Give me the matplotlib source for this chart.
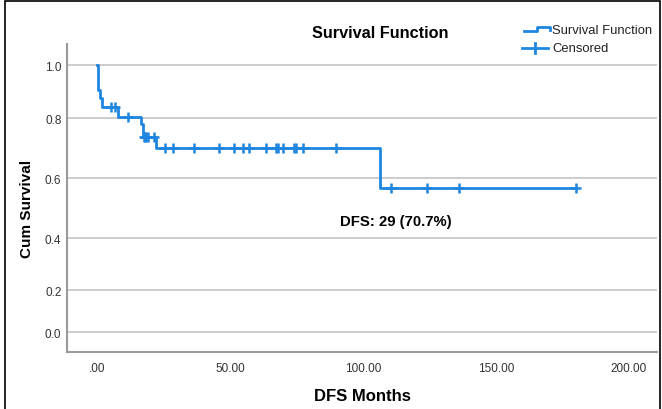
import numpy as np
import matplotlib
matplotlib.use("Agg")
import matplotlib.pyplot as plt
from matplotlib.lines import Line2D
from matplotlib.patches import Rectangle

plt.rcParams["font.family"] = ["Liberation Sans", "DejaVu Sans"]

# Kaplan-Meier steps
step_times = [0, 0.3, 1.2, 1.8, 8.0, 16.4, 17.2, 22.0, 106.5, 180.0]
step_surv = [1.0, 0.905, 0.875, 0.842, 0.804, 0.779, 0.737, 0.70, 0.567, 0.567]

# censored observations
censored_times = [5.3, 6.7, 11.8, 17.6, 18.0, 18.5, 19.1, 21.5, 25.7, 28.5,
                  36.3, 46.0, 51.6, 54.8, 57.3, 63.5, 67.3, 68.2, 70.0, 74.0,
                  74.9, 77.6, 89.9, 110.6, 124.0, 136.0, 180.0]

x_ticks = [0, 50, 100, 150, 200]
x_labels = [".00", "50.00", "100.00", "150.00", "200.00"]
y_ticks = [0.0, 0.2, 0.4, 0.6, 0.8, 1.0]
y_labels = ["0.0", "0.2", "0.4", "0.6", "0.8", "1.0"]

annot_text = "DFS: 29 (70.7%)"

blue = "#1f86e0"

# the source chart has uneven spacing on the survival axis
y_vals = [-0.2, 0.0, 0.2, 0.4, 0.6, 0.8, 1.0, 1.2]
y_pos = [-42, 0, 42, 94, 154, 214, 267, 320]


def fwd(v):
    return np.interp(v, y_vals, y_pos)


def inv(p):
    return np.interp(p, y_pos, y_vals)


fig = plt.figure(figsize=(6.62, 4.10), dpi=100)
ax = fig.add_axes([0.1012, 0.139, 0.8912, 0.751])
ax.set_yscale("function", functions=(fwd, inv))

ax.plot(step_times, step_surv, drawstyle="steps-post", color=blue, lw=2, zorder=3)

t = np.array(step_times)
s = np.array(step_surv)
idx = np.searchsorted(t, censored_times, side="right") - 1
ax.plot(censored_times, s[idx], ls="none", marker="+", ms=7, mew=1.8,
        color=blue, zorder=4)

ax.set_xlim(-11.3, 210.5)
ax.set_ylim(-0.095, 1.079)
ax.set_xticks(x_ticks)
ax.set_xticklabels(x_labels)
ax.set_yticks(y_ticks)
ax.set_yticklabels(y_labels)
ax.tick_params(length=0, labelsize=8.5, colors="#333333")
ax.tick_params(axis="x", pad=7.5)
ax.tick_params(axis="y", pad=4)
ax.yaxis.grid(True, color="#c8c8c8", lw=1.3)
ax.set_axisbelow(True)
for side in ["top", "right"]:
    ax.spines[side].set_visible(False)
for side in ["left", "bottom"]:
    ax.spines[side].set_color("#9a9a9a")
    ax.spines[side].set_linewidth(1.5)

ax.set_xlabel("DFS Months", fontsize=12, fontweight="bold", labelpad=10)
ax.set_ylabel("Cum Survival", fontsize=11, fontweight="bold")
ax.yaxis.set_label_coords(-0.056, 0.4675)

ax.text(91.5, 0.457, annot_text, fontsize=10.7, fontweight="bold", va="center", ha="left")

fig.text(380 / 662, 1 - 33 / 410, "Survival Function", fontsize=11.7,
         fontweight="bold", ha="center", va="center")

# legend drawn by hand (step icon + cross icon)
def fx(px):
    return px / 662


def fy(py):
    return 1 - py / 410


fig.add_artist(Line2D([fx(524), fx(537), fx(537), fx(550), fx(550)],
                      [fy(32), fy(32), fy(28), fy(28), fy(31)],
                      color=blue, lw=2))
fig.add_artist(Line2D([fx(522), fx(548)], [fy(49), fy(49)], color=blue, lw=2))
fig.add_artist(Line2D([fx(535), fx(535)], [fy(44), fy(54)], color=blue, lw=2))
fig.text(fx(552), fy(31), "Survival Function", fontsize=9.4, va="center", ha="left",
         color="#222222")
fig.text(fx(552), fy(49), "Censored", fontsize=9.4, va="center", ha="left",
         color="#222222")

# outer frame
fig.add_artist(Rectangle((fx(5), fy(420)), fx(655), fy(2) - fy(420),
                         fill=False, ec="black", lw=1.2))

fig.savefig("out.png", dpi=100)
